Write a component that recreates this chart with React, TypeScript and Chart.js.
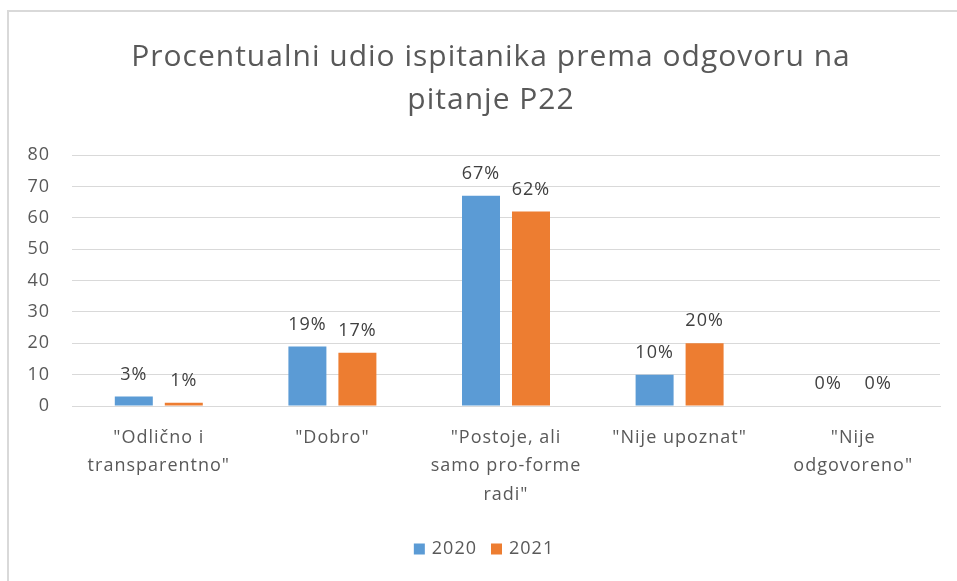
import React, { useEffect, useRef } from "react";
import { Chart, registerables } from "chart.js";

Chart.register(...registerables);

const categories: string[][] = [
  ['"Odlično i', 'transparentno"'],
  ['"Dobro"'],
  ['"Postoje, ali', 'samo pro-forme', 'radi"'],
  ['"Nije upoznat"'],
  ['"Nije', 'odgovoreno"'],
];
const series2020: number[] = [3, 19, 67, 10, 0];
const series2021: number[] = [1, 17, 62, 20, 0];
const titleLines: string[] = ["Procentualni udio ispitanika prema odgovoru na", "pitanje P22"];
const seriesNames: string[] = ["2020", "2021"];

const FONT = "'Open Sans', Lato, sans-serif";
const TEXT = "#595959";

const spacingPlugin = {
  id: "spacing",
  beforeUpdate(chart: any) {
    chart.ctx.letterSpacing = "1px";
  },
  beforeDraw(chart: any) {
    chart.ctx.letterSpacing = "1px";
  },
};

const titlePlugin = {
  id: "customTitle",
  afterDraw(chart: any) {
    const ctx = chart.ctx;
    ctx.save();
    ctx.letterSpacing = "1px";
    ctx.font = `30px ${FONT}`;
    ctx.fillStyle = TEXT;
    ctx.textAlign = "center";
    ctx.textBaseline = "middle";
    titleLines.forEach((line, i) => {
      ctx.fillText(line, 491, 57 + i * 43);
    });
    ctx.restore();
  },
};

const legendPlugin = {
  id: "customLegend",
  afterDraw(chart: any) {
    const ctx = chart.ctx;
    ctx.save();
    ctx.letterSpacing = "1px";
    ctx.font = `18px ${FONT}`;
    ctx.textBaseline = "middle";
    ctx.textAlign = "left";
    const box = 11;
    const gap = 7;
    const spacing = 14;
    const items = chart.data.datasets.map((ds: any) => ({
      label: ds.label,
      color: ds.backgroundColor,
      w: box + gap + ctx.measureText(ds.label).width,
    }));
    const total = items.reduce((s: number, it: any) => s + it.w, 0) + spacing * (items.length - 1);
    let x = 484 - total / 2;
    const y = 549;
    items.forEach((it: any) => {
      ctx.fillStyle = it.color;
      ctx.fillRect(x, y - box / 2, box, box);
      ctx.fillStyle = TEXT;
      ctx.fillText(it.label, x + box + gap, y);
      x += it.w + spacing;
    });
    ctx.restore();
  },
};

const dataLabelPlugin = {
  id: "dataLabels",
  afterDatasetsDraw(chart: any) {
    const ctx = chart.ctx;
    ctx.save();
    ctx.letterSpacing = "1px";
    ctx.font = `18px ${FONT}`;
    ctx.fillStyle = "#404040";
    ctx.textAlign = "center";
    ctx.textBaseline = "middle";
    chart.data.datasets.forEach((ds: any, i: number) => {
      const meta = chart.getDatasetMeta(i);
      meta.data.forEach((el: any, j: number) => {
        ctx.fillText(`${ds.data[j]}%`, el.x, el.y - 22);
      });
    });
    ctx.restore();
  },
};

export default function App() {
  const ref = useRef<HTMLCanvasElement | null>(null);
  useEffect(() => {
    if (!ref.current) return;
    const chart = new Chart(ref.current, {
      type: "bar",
      data: {
        labels: categories,
        datasets: [
          { label: seriesNames[0], data: series2020, backgroundColor: "#5B9BD5" },
          { label: seriesNames[1], data: series2021, backgroundColor: "#ED7D31" },
        ],
      },
      options: {
        animation: false,
        responsive: false,
        maintainAspectRatio: false,
        layout: { padding: { left: 0, right: 17, top: 155, bottom: 50 } },
        datasets: {
          bar: { categoryPercentage: 0.576, barPercentage: 0.76 },
        },
        plugins: {
          title: { display: false },
          legend: { display: false },
          tooltip: { enabled: false },
        },
        scales: {
          x: {
            grid: { display: false, drawTicks: false },
            border: { display: true, color: "#D9D9D9", width: 1 },
            ticks: {
              color: TEXT,
              font: { family: FONT, size: 18, lineHeight: 1.6 },
              padding: 17,
              maxRotation: 0,
              autoSkip: false,
            },
            afterFit(scale: any) {
              scale.height = 125;
            },
          },
          y: {
            min: 0,
            max: 80,
            ticks: {
              stepSize: 10,
              color: TEXT,
              font: { family: FONT, size: 18 },
              padding: 22,
            },
            grid: { color: "#D9D9D9", drawTicks: false },
            border: { display: false },
            afterFit(scale: any) {
              scale.width = 72;
            },
          },
        },
      },
      plugins: [spacingPlugin, dataLabelPlugin, titlePlugin, legendPlugin],
    });
    return () => chart.destroy();
  }, []);

  return (
    <div style={{ position: "absolute", left: 0, top: 0, width: 957, height: 581, background: "#fff", overflow: "hidden" }}>
      <div
        style={{
          position: "absolute",
          left: 7,
          top: 10,
          width: 960,
          height: 600,
          borderLeft: "2px solid #D9D9D9",
          borderTop: "2px solid #D9D9D9",
        }}
      />
      <canvas ref={ref} width={957} height={581} style={{ position: "absolute", left: 0, top: 0 }} />
    </div>
  );
}
